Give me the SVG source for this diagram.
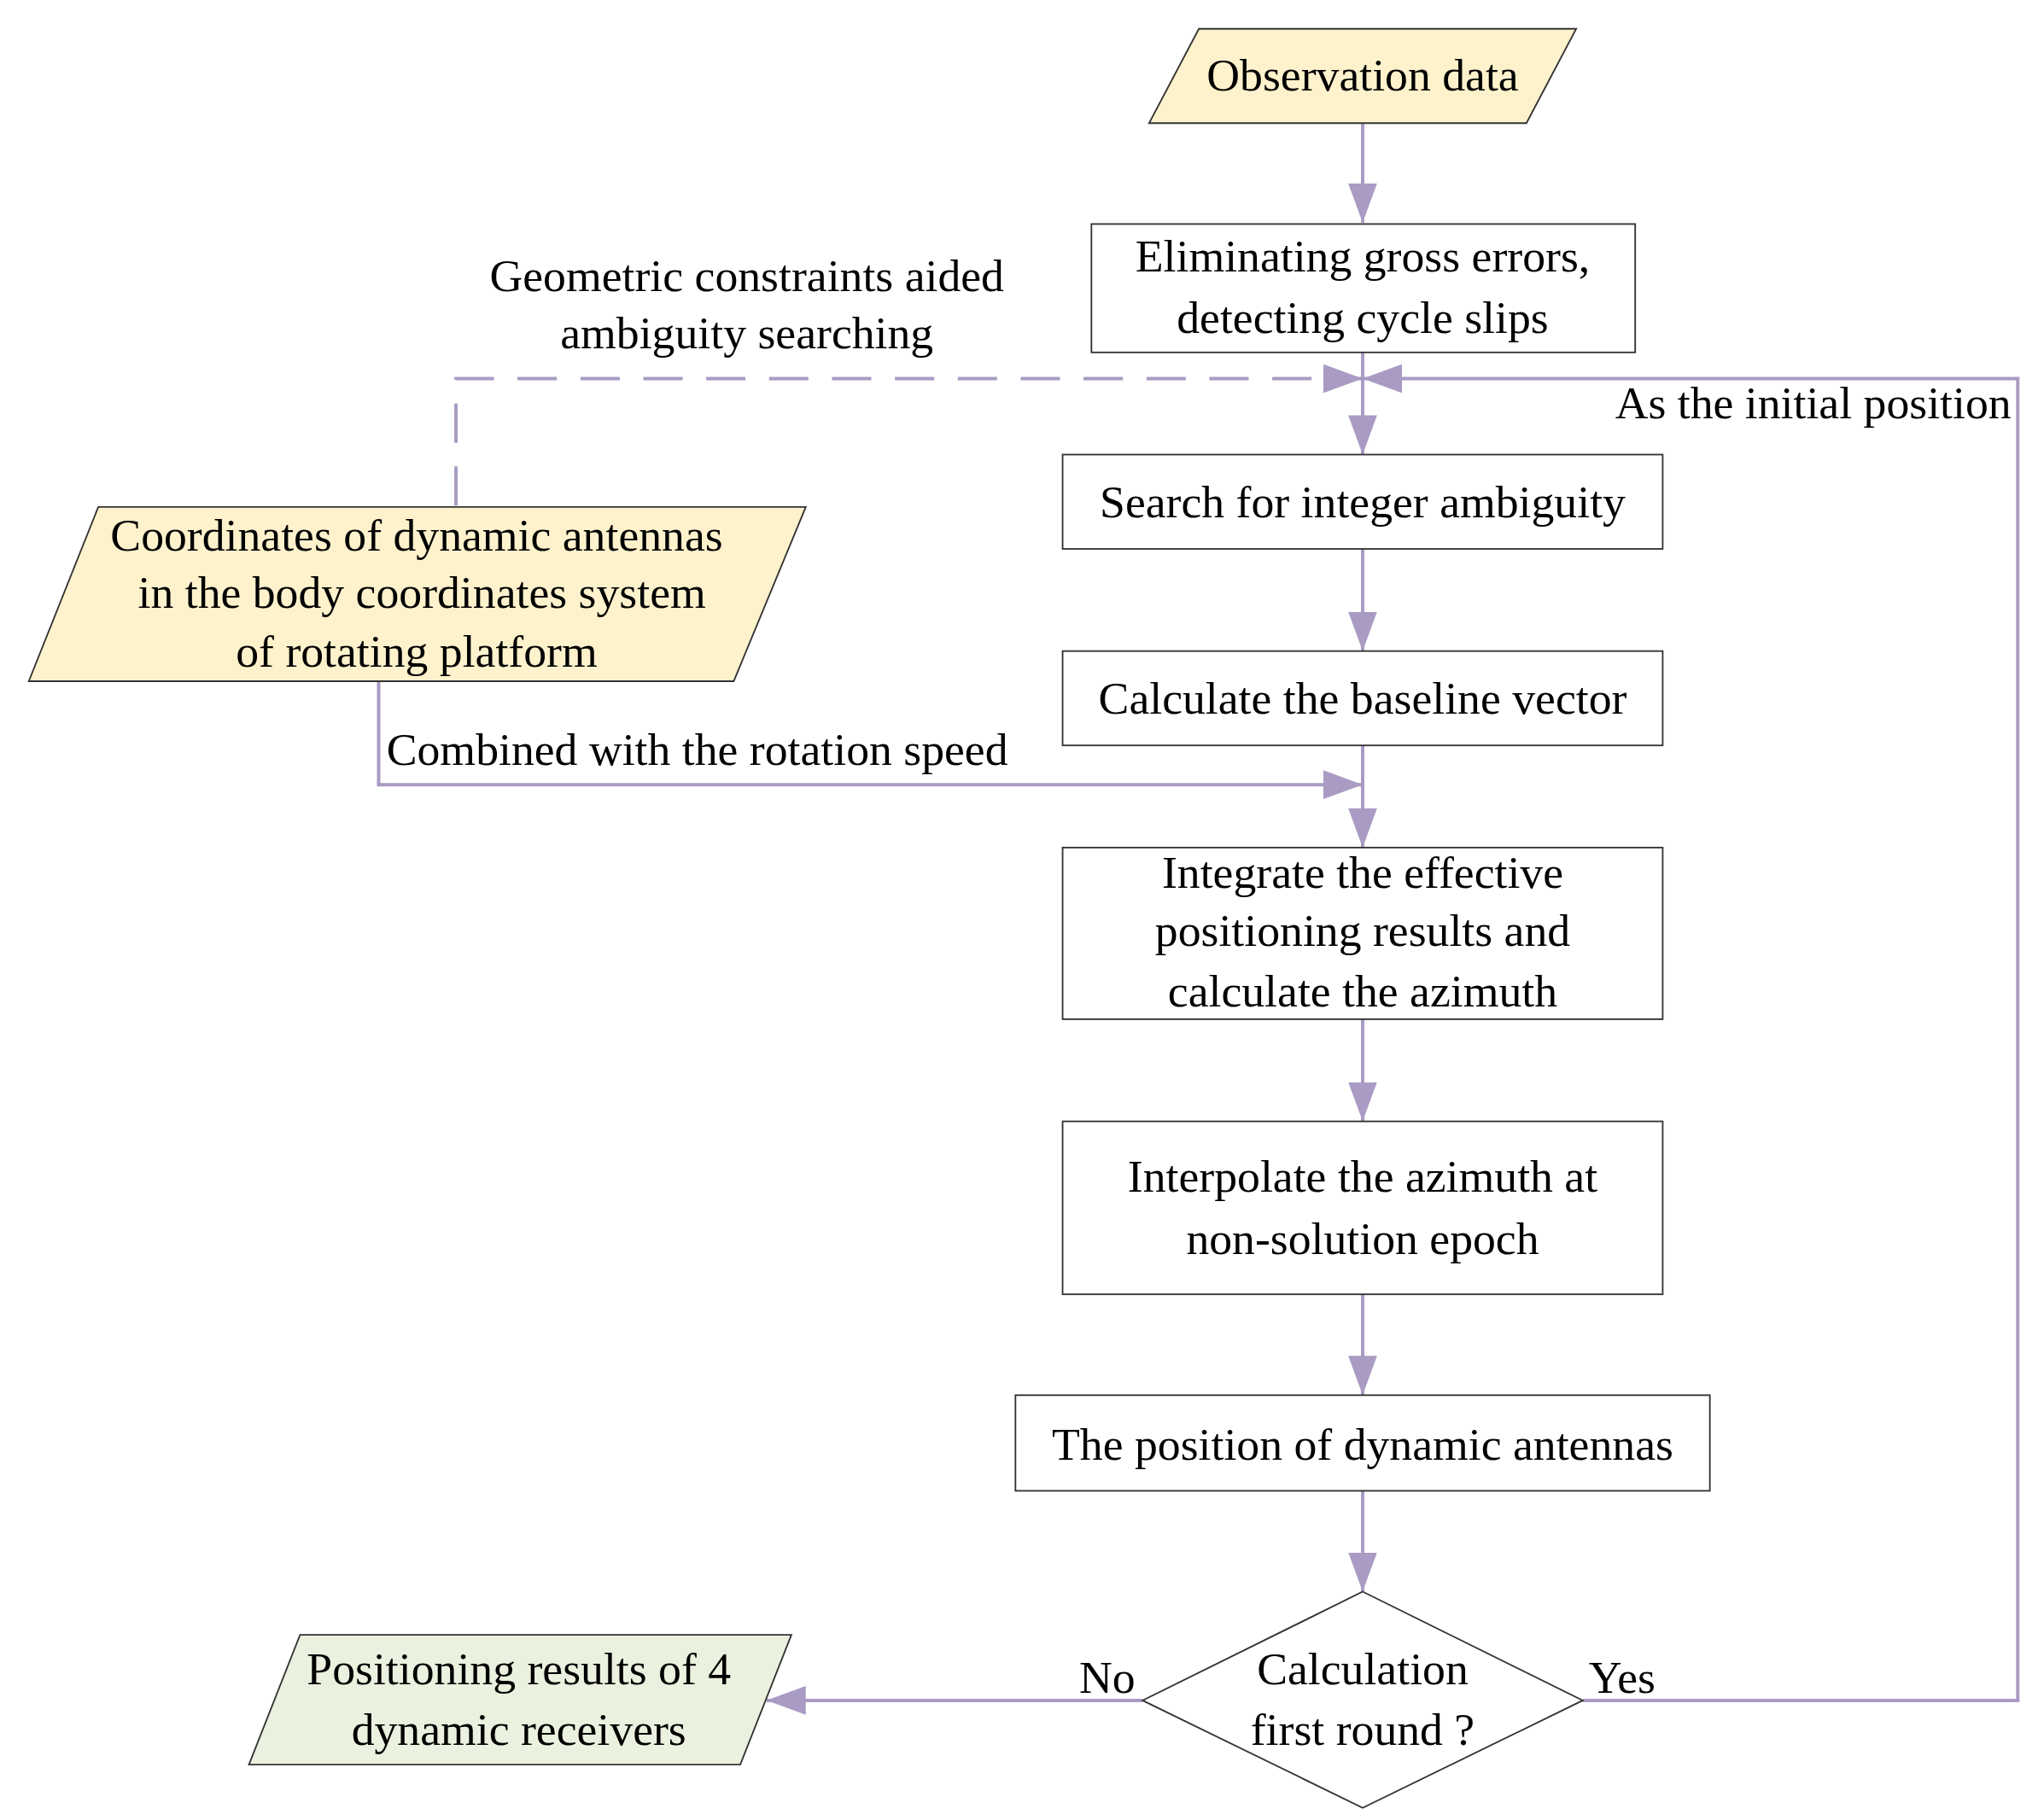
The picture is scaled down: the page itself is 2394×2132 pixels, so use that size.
<svg xmlns="http://www.w3.org/2000/svg" width="2394" height="2132" viewBox="0 0 2394 2132">
<defs>
<marker id="ah" viewBox="0 0 30 22" markerWidth="30" markerHeight="22" markerUnits="userSpaceOnUse" refX="30" refY="11" orient="auto">
<polygon points="0,0 30,11 0,22" fill="#A99BC3"/>
</marker>
</defs>
<style>
.t{font-family:"Liberation Serif","Times New Roman",serif;font-size:35px;fill:#000;text-anchor:middle}
.box{fill:#fff;stroke:#333;stroke-width:1.2}
.in{fill:#FEF2CC;stroke:#333;stroke-width:1.2}
.out{fill:#EBF1DF;stroke:#333;stroke-width:1.2}
.c{fill:none;stroke:#A99BC3;stroke-width:2.6;marker-end:url(#ah)}
.d{stroke-dasharray:30,18}
</style>
<rect width="2394" height="2132" fill="#fff"/>
<g transform="scale(1.5346)">
<g id="connectors">
<path class="c" d="M1040,94 V170"/>
<path class="c" d="M1040,269 V347"/>
<path class="c" d="M1040,419 V497"/>
<path class="c" d="M1040,569 V647"/>
<path class="c" d="M1040,778 V856"/>
<path class="c" d="M1040,988 V1065"/>
<path class="c" d="M1040,1138 V1215"/>
<path class="c d" d="M348,386 V289 H1040"/>
<path class="c" d="M1208,1298 H1540 V289 H1040"/>
<path class="c" d="M289,520 V599 H1040"/>
<path class="c" d="M872,1298 H585"/>
<text class="t" x="570" y="222">Geometric constraints aided</text>
<text class="t" x="570" y="266">ambiguity searching</text>
<text class="t" x="1535" y="319" style="text-anchor:end">As the initial position</text>
<text class="t" x="295" y="584" style="text-anchor:start">Combined with the rotation speed</text>
<text class="t" x="845" y="1292">No</text>
<text class="t" x="1238" y="1292">Yes</text>
</g>
<g id="observation"><polygon class="in" points="915,22 1203,22 1165,94 877,94"/><text class="t" x="1040" y="69">Observation data</text></g>
<g id="eliminate"><rect class="box" x="833" y="171" width="415" height="98"/><text class="t" x="1040" y="207">Eliminating gross errors,</text><text class="t" x="1040" y="254">detecting cycle slips</text></g>
<g id="search"><rect class="box" x="811" y="347" width="458" height="72"/><text class="t" x="1040" y="395">Search for integer ambiguity</text></g>
<g id="baseline"><rect class="box" x="811" y="497" width="458" height="72"/><text class="t" x="1040" y="545">Calculate the baseline vector</text></g>
<g id="integrate"><rect class="box" x="811" y="647" width="458" height="131"/><text class="t" x="1040" y="678">Integrate the effective</text><text class="t" x="1040" y="722">positioning results and</text><text class="t" x="1040" y="768">calculate the azimuth</text></g>
<g id="interpolate"><rect class="box" x="811" y="856" width="458" height="132"/><text class="t" x="1040" y="910">Interpolate the azimuth at</text><text class="t" x="1040" y="957">non-solution epoch</text></g>
<g id="position"><rect class="box" x="775" y="1065" width="530" height="73"/><text class="t" x="1040" y="1114">The position of dynamic antennas</text></g>
<g id="decision"><polygon class="box" points="1040,1215 1208,1298 1040,1380 872,1298"/><text class="t" x="1040" y="1286">Calculation</text><text class="t" x="1040" y="1332">first round ?</text></g>
<g id="coords"><polygon class="in" points="75,387 615,387 560,520 22,520"/><text class="t" x="318" y="420">Coordinates of dynamic antennas</text><text class="t" x="322" y="464">in the body coordinates system</text><text class="t" x="318" y="509">of rotating platform</text></g>
<g id="results"><polygon class="out" points="229,1248 604,1248 565,1347 190,1347"/><text class="t" x="396" y="1286">Positioning results of 4</text><text class="t" x="396" y="1332">dynamic receivers</text></g>
</g>
</svg>
